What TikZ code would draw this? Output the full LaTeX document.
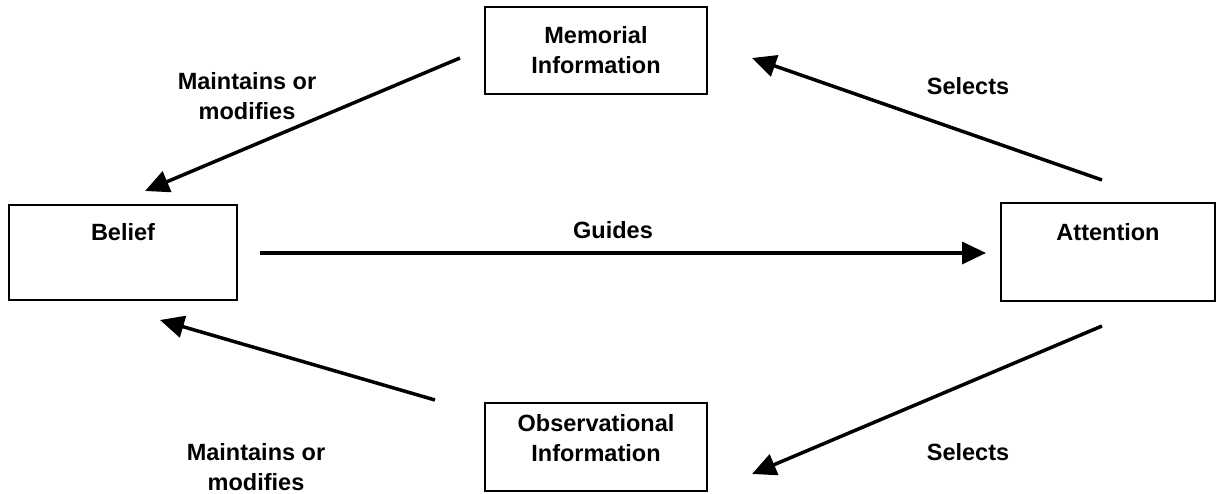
\documentclass[tikz,border=0pt]{standalone}
\usepackage{fontspec}
\setmainfont{Liberation Sans}
\usetikzlibrary{arrows.meta}
\begin{document}
\begin{tikzpicture}[x=1pt,y=-1pt,
  box/.style={draw=black,line width=2pt,rectangle,inner sep=0pt,anchor=north west},
  txt/.style={font=\fontsize{23.5}{30}\selectfont\bfseries,align=center,inner sep=0pt},
  flow/.style={draw=black,line width=3.5pt,-{Triangle[length=24pt,width=22pt]}}]
\useasboundingbox (0,0) rectangle (1217,494);
\fill[white] (0,0) rectangle (1217,494);

% boxes
\node[box,minimum width=222pt,minimum height=87pt] (mem) at (484,6) {};
\node[box,minimum width=228pt,minimum height=95pt] (bel) at (8,204) {};
\node[box,minimum width=214pt,minimum height=98pt] (att) at (1000,202) {};
\node[box,minimum width=222pt,minimum height=88pt] (obs) at (484,402) {};

% box texts
\node[txt] (memt) at (mem.center) {Memorial\\Information};
\node[txt,anchor=north] (belt) at ([yshift=-19pt]bel.north) {Belief};
\node[txt,anchor=north] (attt) at ([yshift=-21pt]att.north) {Attention};
\node[txt,anchor=north] (obst) at ([yshift=-12pt]obs.north) {Observational\\Information};

% connector end points
\coordinate (g1) at (260,253);
\coordinate (g2) at (986,253);
\coordinate (ml1) at (460,58);
\coordinate (ml2) at (145,191);
\coordinate (sr1) at (1102,180);
\coordinate (sr2) at (752,58);
\coordinate (br1) at (1102,326);
\coordinate (br2) at (752,474);
\coordinate (bl1) at (435,400);
\coordinate (bl2) at (160,320);

\draw[flow] (g1) -- (g2);
\draw[flow] (ml1) -- (ml2);
\draw[flow] (sr1) -- (sr2);
\draw[flow] (br1) -- (br2);
\draw[flow] (bl1) -- (bl2);

% connector labels
\node[txt] (lg) at (613,230) {Guides};
\node[txt] (lml) at (247,96) {Maintains or\\modifies};
\node[txt] (lsr) at (968,86) {Selects};
\node[txt] (lsb) at (968,452) {Selects};
\node[txt] (lbl) at (256,467) {Maintains or\\modifies};
\end{tikzpicture}
\end{document}
